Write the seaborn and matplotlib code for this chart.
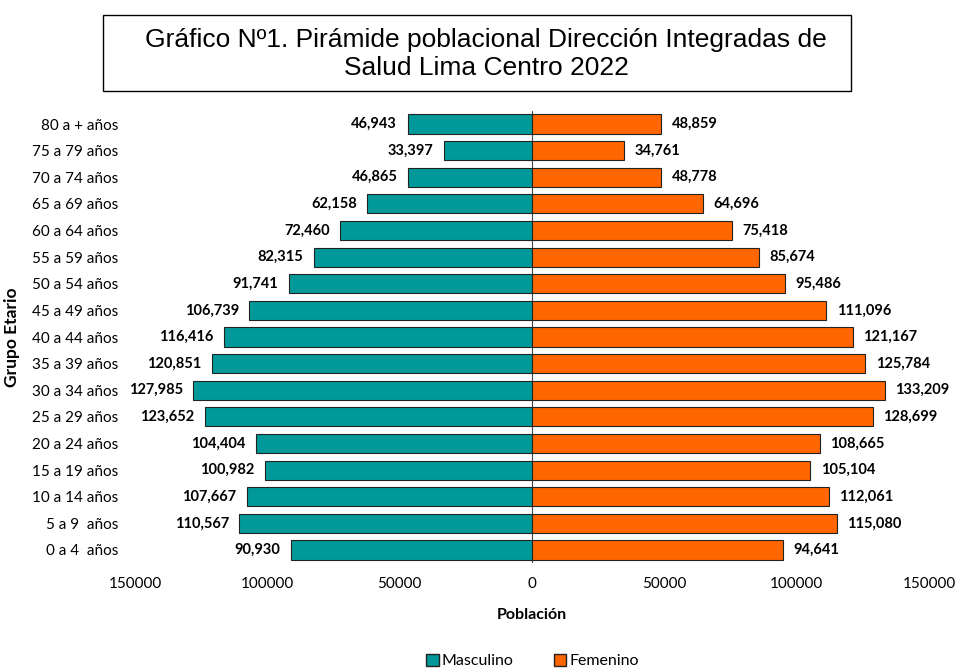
import matplotlib
matplotlib.use("Agg")
import matplotlib.pyplot as plt
import seaborn as sns
import pandas as pd
from matplotlib.patches import Patch, Rectangle

grupos = ["80 a + años", "75 a 79 años", "70 a 74 años", "65 a 69 años", "60 a 64 años",
          "55 a 59 años", "50 a 54 años", "45 a 49 años", "40 a 44 años", "35 a 39 años",
          "30 a 34 años", "25 a 29 años", "20 a 24 años", "15 a 19 años", "10 a 14 años",
          "5 a 9  años", "0 a 4  años"]
masculino = [46943, 33397, 46865, 62158, 72460, 82315, 91741, 106739, 116416, 120851,
             127985, 123652, 104404, 100982, 107667, 110567, 90930]
femenino = [48859, 34761, 48778, 64696, 75418, 85674, 95486, 111096, 121167, 125784,
            133209, 128699, 108665, 105104, 112061, 115080, 94641]
xticks = [-150000, -100000, -50000, 0, 50000, 100000, 150000]
xticklabels = ["150000", "100000", "50000", "0", "50000", "100000", "150000"]

c_m = "#009999"
c_f = "#FF6600"

df = pd.concat([
    pd.DataFrame({"grupo": grupos, "valor": [-v for v in masculino], "sexo": "Masculino"}),
    pd.DataFrame({"grupo": grupos, "valor": femenino, "sexo": "Femenino"}),
])

sns.set_theme(style="white")
plt.rcParams["font.family"] = ["Lato", "DejaVu Sans"]
plt.rcParams["text.color"] = "black"
plt.rcParams["axes.labelcolor"] = "black"
plt.rcParams["xtick.color"] = "black"
plt.rcParams["ytick.color"] = "black"

fig = plt.figure(figsize=(9.56, 6.71), dpi=100)
ax = fig.add_axes([0.1412, 0.1605, 0.8306, 0.6745])

sns.barplot(data=df, y="grupo", x="valor", hue="sexo", order=grupos,
            palette={"Masculino": c_m, "Femenino": c_f}, dodge=False, saturation=1,
            orient="h", width=0.72, edgecolor="#222222", linewidth=0.8,
            ax=ax, legend=False)

for i, (m, f) in enumerate(zip(masculino, femenino)):
    ax.text(-m - 4000, i, f"{m:,}", ha="right", va="center", fontsize=10.5,
            fontweight="bold", color="black")
    ax.text(f + 4000, i, f"{f:,}", ha="left", va="center", fontsize=10.5,
            fontweight="bold", color="black")

ax.set_xlim(-150000, 150000)
ax.set_ylim(len(grupos) - 0.5, -0.5)
ax.set_xticks(xticks)
ax.set_xticklabels(xticklabels, fontsize=11)
ax.tick_params(axis="y", labelsize=11, length=0, pad=12)
ax.tick_params(axis="x", length=0, pad=10)
for s in ["top", "right", "left", "bottom"]:
    ax.spines[s].set_visible(False)
ax.axvline(0, color="#444444", linewidth=0.8, zorder=0)

ax.set_xlabel("Población", fontsize=11.5, fontweight="bold", labelpad=12)
ax.set_ylabel("Grupo Etario", fontsize=12.5, fontweight="bold")
ax.yaxis.set_label_coords(-0.145, 0.5)

# title box
fig.patches.append(Rectangle((103 / 956, 1 - 91 / 671), (851 - 103) / 956, (91 - 15) / 671,
                             transform=fig.transFigure, facecolor="white",
                             edgecolor="black", linewidth=1))
fig.text(486 / 956, 1 - 54 / 671,
         "Gráfico Nº1. Pirámide poblacional Dirección Integradas de\nSalud Lima Centro 2022",
         ha="center", va="center", fontsize=19, family=["Liberation Sans", "DejaVu Sans"],
         linespacing=1.2, color="black")

handles = [Patch(facecolor=c_m, edgecolor="#222222", label="Masculino"),
           Patch(facecolor=c_f, edgecolor="#222222", label="Femenino")]
fig.legend(handles=handles, loc="center", bbox_to_anchor=(0.557, 0.015), ncol=2,
           frameon=False, fontsize=11.5, handlelength=0.8, handleheight=0.8,
           handletextpad=0.2, columnspacing=2.5)

fig.savefig("out.png", dpi=100)
